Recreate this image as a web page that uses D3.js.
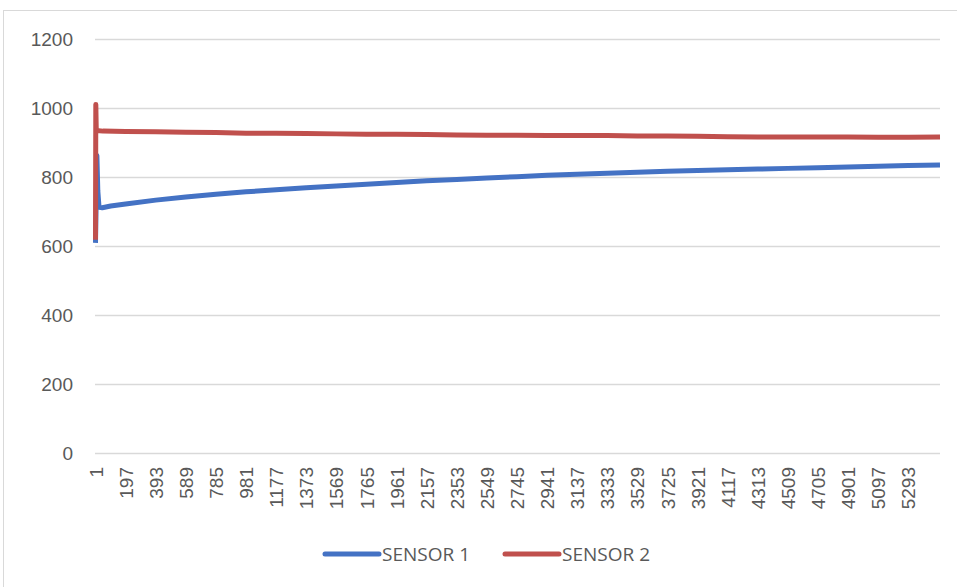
<!DOCTYPE html>
<html>
<head>
<meta charset="utf-8">
<script src="https://cdn.jsdelivr.net/npm/d3@7"></script>
<style>
  body { margin: 0; background: #fff; }
  svg { display: block; font-family: "Open Sans", sans-serif; }
  .axis text { fill: #595959; }
</style>
</head>
<body>
<div id="chart"></div>
<script>
// sample count along the category axis
const pointCount = 5500;

// category tick labels (every 196th sample)
const xTickLabels = d3.range(1, 5294, 196);
const yTickLabels = [0, 200, 400, 600, 800, 1000, 1200];

// [sample, value]
const sensor1 = [
  [1, 609], [10, 862], [16, 760], [24, 712], [45, 711], [100, 716],
  [197, 722], [393, 733], [589, 742], [785, 750], [981, 757], [1177, 763],
  [1373, 769], [1569, 774], [1765, 779], [1961, 784], [2157, 789],
  [2353, 793], [2549, 797], [2745, 801], [2941, 805], [3137, 808],
  [3333, 811], [3529, 814], [3725, 817], [3921, 819], [4117, 821],
  [4313, 823], [4509, 825], [4705, 827], [4901, 829], [5097, 831],
  [5293, 833], [5500, 835],
];

const sensor2 = [
  [1, 618], [3, 1010], [6, 935], [50, 933],
  [197, 932], [393, 931], [589, 930], [785, 929], [981, 927], [1177, 927],
  [1373, 926], [1569, 925], [1765, 924], [1961, 924], [2157, 923],
  [2353, 922], [2549, 921], [2745, 921], [2941, 920], [3137, 920],
  [3333, 920], [3529, 919], [3725, 919], [3921, 918], [4117, 917],
  [4313, 916], [4509, 916], [4705, 916], [4901, 916], [5097, 915],
  [5293, 915], [5500, 916],
];

const seriesNames = ["SENSOR 1", "SENSOR 2"];
const seriesColors = ["#4472C4", "#C0504D"];

const width = 957;
const height = 587;
const margin = { top: 39, right: 17, bottom: 134, left: 95 };

const x = d3
  .scaleLinear()
  .domain([1, pointCount])
  .range([margin.left + 0.5, width - margin.right]);
const y = d3
  .scaleLinear()
  .domain([0, 1200])
  .range([height - margin.bottom, margin.top]);

const svg = d3
  .select("#chart")
  .append("svg")
  .attr("width", width)
  .attr("height", height);

// chart frame
svg
  .append("rect")
  .attr("x", 3.5)
  .attr("y", 10.5)
  .attr("width", width + 10)
  .attr("height", height + 10)
  .attr("fill", "none")
  .attr("stroke", "#d9d9d9");

// grid
svg
  .append("g")
  .attr("stroke", "#d9d9d9")
  .attr("stroke-width", 1.3)
  .selectAll("line")
  .data(yTickLabels)
  .join("line")
  .attr("x1", margin.left)
  .attr("x2", width - margin.right)
  .attr("y1", (d) => Math.round(y(d)) + 0.5)
  .attr("y2", (d) => Math.round(y(d)) + 0.5);

// y axis labels
svg
  .append("g")
  .attr("class", "axis")
  .attr("transform", `translate(${margin.left - 22},0)`)
  .call(
    d3
      .axisLeft(y)
      .tickValues(yTickLabels)
      .tickFormat(d3.format("d"))
      .tickSize(0)
      .tickPadding(0)
  )
  .call((g) => g.select(".domain").remove())
  .call((g) =>
    g.selectAll("text").attr("font-size", 19).attr("font-family", null)
  );

// x axis labels, rotated
svg
  .append("g")
  .attr("class", "axis")
  .attr("transform", `translate(0,${height - margin.bottom})`)
  .call(d3.axisBottom(x).tickValues(xTickLabels).tickSize(0).tickFormat(d3.format("d")))
  .call((g) => g.select(".domain").remove())
  .call((g) =>
    g
      .selectAll("text")
      .attr("font-size", 19)
      .attr("font-family", null)
      .attr("text-anchor", "end")
      .attr("dy", "0.35em")
      .attr("transform", "translate(0,14)rotate(-90)")
      .attr("x", 0)
      .attr("y", 0)
  );

// lines
const line = d3
  .line()
  .x((d) => x(d[0]))
  .y((d) => y(d[1]));

svg
  .append("g")
  .selectAll("path")
  .data([sensor1, sensor2])
  .join("path")
  .attr("fill", "none")
  .attr("stroke", (d, i) => seriesColors[i])
  .attr("stroke-width", 5)
  .attr("stroke-linejoin", "round")
  .attr("d", line);

// legend
const legend = svg
  .append("g")
  .attr("transform", `translate(323,${height - 33})`)
  .selectAll("g")
  .data(seriesNames)
  .join("g")
  .attr("transform", (d, i) => `translate(${i * 180},0)`);

legend
  .append("line")
  .attr("x1", 2)
  .attr("x2", 56)
  .attr("stroke", (d, i) => seriesColors[i])
  .attr("stroke-width", 5)
  .attr("stroke-linecap", "round");

legend
  .append("text")
  .attr("x", 59)
  .attr("dy", "0.35em")
  .attr("font-size", 19)
  .attr("fill", "#595959")
  .text((d) => d);
</script>
</body>
</html>
